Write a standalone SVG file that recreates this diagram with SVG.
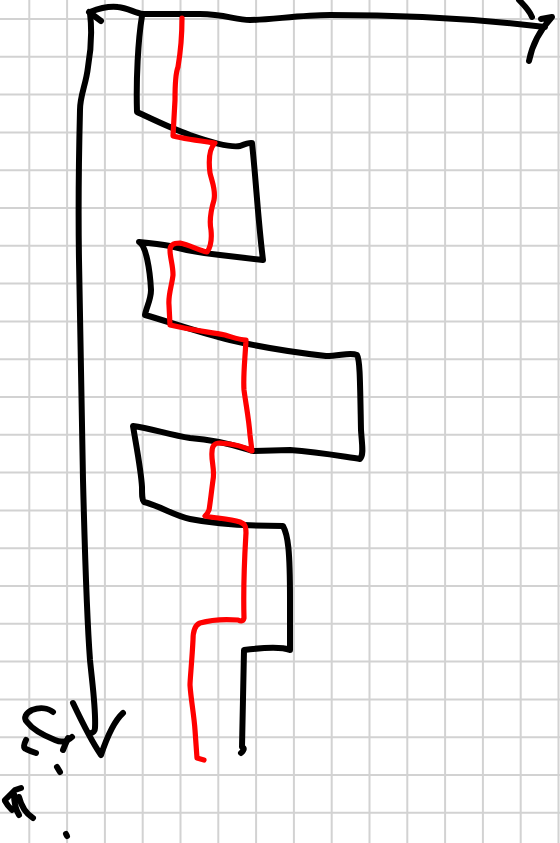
<svg xmlns="http://www.w3.org/2000/svg" width="560" height="843" viewBox="0 0 560 843">
<defs>
<style>
.grid line{stroke:#d2d2d2;stroke-width:2}
.ink{fill:none;stroke:#000;stroke-width:6;stroke-linecap:round;stroke-linejoin:round}
.red{fill:none;stroke:#ff0000;stroke-width:5.2;stroke-linecap:round;stroke-linejoin:round}
</style>
</defs>
<rect width="560" height="843" fill="#fff"/>
<g class="grid" id="grid">
<line x1="29.3" y1="0" x2="29.3" y2="843"/><line x1="67.1" y1="0" x2="67.1" y2="843"/><line x1="104.9" y1="0" x2="104.9" y2="843"/><line x1="142.7" y1="0" x2="142.7" y2="843"/><line x1="180.5" y1="0" x2="180.5" y2="843"/><line x1="218.3" y1="0" x2="218.3" y2="843"/><line x1="256.1" y1="0" x2="256.1" y2="843"/><line x1="293.9" y1="0" x2="293.9" y2="843"/><line x1="331.7" y1="0" x2="331.7" y2="843"/><line x1="369.5" y1="0" x2="369.5" y2="843"/><line x1="407.3" y1="0" x2="407.3" y2="843"/><line x1="445.1" y1="0" x2="445.1" y2="843"/><line x1="482.9" y1="0" x2="482.9" y2="843"/><line x1="520.7" y1="0" x2="520.7" y2="843"/><line x1="558.5" y1="0" x2="558.5" y2="843"/>
<line x1="0" y1="19" x2="560" y2="19"/><line x1="0" y1="56.8" x2="560" y2="56.8"/><line x1="0" y1="94.6" x2="560" y2="94.6"/><line x1="0" y1="132.4" x2="560" y2="132.4"/><line x1="0" y1="170.2" x2="560" y2="170.2"/><line x1="0" y1="208" x2="560" y2="208"/><line x1="0" y1="245.8" x2="560" y2="245.8"/><line x1="0" y1="283.6" x2="560" y2="283.6"/><line x1="0" y1="321.4" x2="560" y2="321.4"/><line x1="0" y1="359.2" x2="560" y2="359.2"/><line x1="0" y1="397" x2="560" y2="397"/><line x1="0" y1="434.8" x2="560" y2="434.8"/><line x1="0" y1="472.6" x2="560" y2="472.6"/><line x1="0" y1="510.4" x2="560" y2="510.4"/><line x1="0" y1="548.2" x2="560" y2="548.2"/><line x1="0" y1="586" x2="560" y2="586"/><line x1="0" y1="623.8" x2="560" y2="623.8"/><line x1="0" y1="661.6" x2="560" y2="661.6"/><line x1="0" y1="699.4" x2="560" y2="699.4"/><line x1="0" y1="737.2" x2="560" y2="737.2"/><line x1="0" y1="775" x2="560" y2="775"/><line x1="0" y1="812.8" x2="560" y2="812.8"/>
</g>
<g id="axes" class="ink">
<path d="M 90,12 C 100,8 110,6 118,7 C 128,8 135,13 143,14 L 200,14 C 225,14 235,20 250,20 C 270,20 300,15 330,15 C 400,15 470,18 545,27"/>
<path d="M 519,0 C 525,6 530,12 532,17 M 541,19 L 552,17 C 540,30 532,45 529,61"/>
<path d="M 90,13 C 92,30 91,50 88,67 C 86,85 80,95 80,110 C 79,150 78,200 79,260 C 80,330 81,400 83,480 C 85,560 87,620 90,660 C 93,690 96,710 95,728 C 95,731 93,733 91,733"/>
<path d="M 89,12 L 101,21"/>
<path d="M 73,703 C 82,722 92,742 101,755 C 106,740 113,722 123,713"/>
</g>
<g id="steps" class="ink">
<path d="M 142,16 C 138,40 136,80 137,112 C 150,118 170,128 190,135 C 210,142 230,148 240,146 C 245,144 250,142 252,143 C 256,180 258,220 263,260 L 220,255 C 200,253 185,250 170,246 C 160,244 150,243 139,242 C 146,245 150,270 151,290 C 151,300 146,308 145,315 C 170,322 200,333 230,340 C 260,347 290,352 326,356 C 340,356 350,352 357,355 C 360,360 360,380 361,430 C 362,445 364,455 360,459 C 345,457 320,452 290,450 L 253,451 C 240,447 220,440 190,438 C 170,435 150,428 133,426 C 137,450 141,470 142,487 C 142,495 142,500 144,502 C 160,506 175,516 190,519 C 210,523 240,526 283,526 C 288,535 290,550 290,600 L 290,650 C 280,646 260,648 244,650 L 242,747 C 244,748 245,749 241,753"/>
</g>
<g id="path-red" class="red">
<path d="M 182,18 C 182,35 180,55 178,67 C 176,72 175,85 175,100 L 173,136 C 185,139 200,141 215,143 C 208,150 209,165 210,173 C 212,182 216,190 214,200 C 211,210 209,220 211,230 C 212,240 210,248 207,252 C 198,250 190,245 180,243 C 174,243 170,245 170,250 C 170,258 173,265 173,275 C 172,285 168,295 169,305 L 170,325 C 190,330 210,332 225,335 C 235,338 240,340 246,340 C 245,360 243,375 244,390 C 246,405 249,420 250,435 L 252,451 C 245,447 235,444 220,443 C 214,443 212,446 212,452 C 211,460 215,470 213,480 C 211,495 210,505 209,510 C 208,513 206,515 205,516 C 215,518 230,519 240,522 C 245,524 246,526 246,533 C 245,550 243,580 244,618 C 243,622 240,621 238,620 C 225,619 210,620 200,623 C 195,625 193,630 193,640 C 192,660 190,680 190,685 C 191,700 194,715 195,730 L 197,758 L 204,760"/>
</g>
<g id="scribbles" class="ink">
<path d="M 53,712 C 48,708 40,707 32,710 C 26,713 23,718 27,722 C 33,730 45,736 55,740 C 62,743 68,741 72,737"/>
<path d="M 68,738 L 63,750"/>
<path d="M 26,740 C 24,744 23,748 26,749 C 30,751 33,752 36,753"/>
<path d="M 57,767 L 60,772"/>
<path d="M 21,788 L 15,790 L 8,797 L 5,800 M 5,801 C 7,805 10,808 12,810 M 14,794 C 14,802 16,810 19,815 M 19,797 C 21,805 25,813 33,818"/>
<path d="M 66,834 L 67,836"/>
</g>
</svg>
